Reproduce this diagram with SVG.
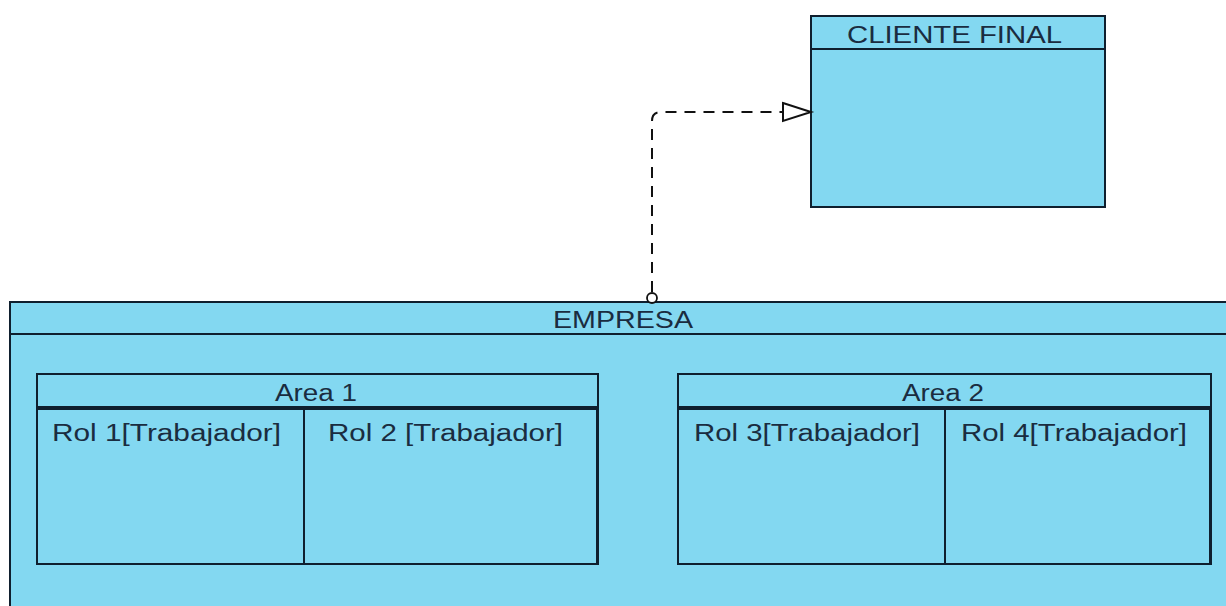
<svg xmlns="http://www.w3.org/2000/svg" width="1226" height="606" viewBox="0 0 1226 606">
  <style>
    .box { fill: #83d8f1; stroke: #0f1f2e; stroke-width: 2; }
    .line { stroke: #0f1f2e; stroke-width: 2; fill: none; }
    .thick { stroke: #0f1f2e; stroke-width: 4; fill: none; }
    .lbl { font-family: "Liberation Sans", Arial, sans-serif; font-size: 23px; fill: #1a2c40; }
    .dash { stroke: #111; stroke-width: 2; fill: none; stroke-dasharray: 11 8; }
  </style>
  <rect width="1226" height="606" fill="#ffffff"/>

  <!-- Client node -->
  <g id="cliente-final">
    <rect class="box" x="811" y="16" width="294" height="191"/>
    <line class="line" x1="811" y1="49" x2="1105" y2="49"/>
    <text class="lbl" x="847" y="43" textLength="215" lengthAdjust="spacingAndGlyphs">CLIENTE FINAL</text>
  </g>

  <!-- Company node with its areas -->
  <g id="empresa">
    <rect class="box" x="10" y="302" width="1230" height="320"/>
    <line class="line" x1="10" y1="334" x2="1226" y2="334"/>
    <text class="lbl" x="553" y="328" textLength="140" lengthAdjust="spacingAndGlyphs">EMPRESA</text>
  </g>

  <g id="area-1">
    <rect class="box" x="37" y="374" width="561" height="190"/>
    <line class="thick" x1="37" y1="408" x2="598" y2="408"/>
    <line class="line" x1="304" y1="408" x2="304" y2="564"/>
    <line class="line" x1="597" y1="408" x2="597" y2="565" stroke-width="3"/>
    <text class="lbl" x="275" y="401" textLength="82" lengthAdjust="spacingAndGlyphs">Area 1</text>
    <text class="lbl" x="52" y="441" textLength="229" lengthAdjust="spacingAndGlyphs">Rol 1[Trabajador]</text>
    <text class="lbl" x="328" y="441" textLength="235" lengthAdjust="spacingAndGlyphs">Rol 2 [Trabajador]</text>
  </g>

  <g id="area-2">
    <rect class="box" x="678" y="374" width="533" height="190"/>
    <line class="thick" x1="678" y1="408" x2="1211" y2="408"/>
    <line class="line" x1="945" y1="408" x2="945" y2="564"/>
    <line class="line" x1="1210" y1="408" x2="1210" y2="565" stroke-width="3"/>
    <text class="lbl" x="902" y="401" textLength="82" lengthAdjust="spacingAndGlyphs">Area 2</text>
    <text class="lbl" x="694" y="441" textLength="226" lengthAdjust="spacingAndGlyphs">Rol 3[Trabajador]</text>
    <text class="lbl" x="961" y="441" textLength="226" lengthAdjust="spacingAndGlyphs">Rol 4[Trabajador]</text>
  </g>

  <!-- Realization connector -->
  <g id="connectors">
    <path class="dash" d="M652 292 L652 121 Q652 112 661 112 L783 112"/>
    <polygon points="783,103 811,112 783,121" fill="#ffffff" stroke="#111" stroke-width="2"/>
    <circle cx="652" cy="298" r="5" fill="#ffffff" stroke="#111" stroke-width="1.8"/>
  </g>
</svg>
